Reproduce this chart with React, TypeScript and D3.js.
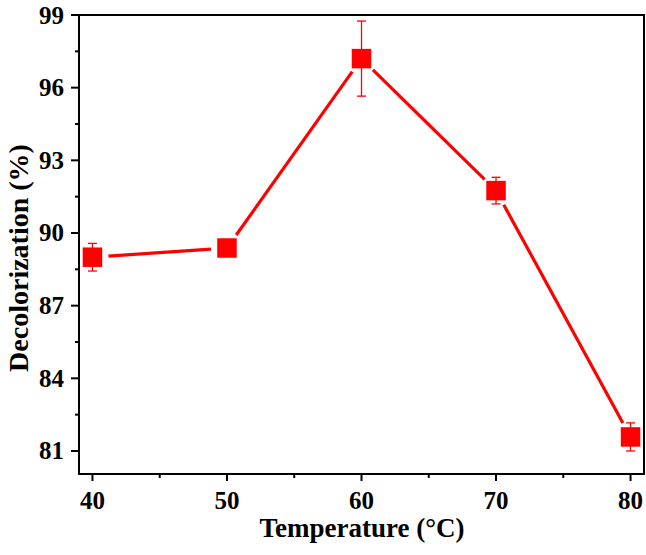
import React from "react";
import * as d3 from "d3";

const temperatures = [40, 50, 60, 70, 80];
const decolorization = [89.0, 89.38, 97.2, 91.75, 81.58];
const errors = [0.57, 0.2, 1.55, 0.55, 0.58];
const xTicks = [40, 50, 60, 70, 80];
const xMinorTicks = [45, 55, 65, 75];
const yTicks = [81, 84, 87, 90, 93, 96, 99];
const yMinorTicks = [82.5, 85.5, 88.5, 91.5, 94.5, 97.5];

const W = 646;
const H = 555;
const margin = { left: 79, top: 15, right: 2, bottom: 81 };
const FONT = "'Liberation Serif', 'Times New Roman', serif";
const RED = "#FF0000";

export default function App() {
  const x = d3.scaleLinear().domain([39, 81]).range([margin.left, W - margin.right]);
  const y = d3.scaleLinear().domain([80.05, 99]).range([H - margin.bottom, margin.top]);
  const x0 = margin.left, x1 = W - margin.right, y0 = H - margin.bottom, y1 = margin.top;

  const pts = temperatures.map((t, i) => ({ px: x(t), py: y(decolorization[i]), e: errors[i], v: decolorization[i] }));
  const gap = 16;
  const segs = pts.slice(1).map((p, i) => {
    const a = pts[i];
    const dx = p.px - a.px, dy = p.py - a.py;
    const len = Math.hypot(dx, dy);
    const ux = dx / len, uy = dy / len;
    return { xa: a.px + ux * gap, ya: a.py + uy * gap, xb: p.px - ux * gap, yb: p.py - uy * gap };
  });
  const ms = 19.5;

  return (
    <svg width={W} height={H} style={{ position: "absolute", left: 0, top: 0, background: "#fff" }} fontFamily={FONT}>
      <rect x={0} y={0} width={W} height={H} fill="#fff" />
      {/* frame */}
      <rect x={x0} y={y1} width={x1 - x0} height={y0 - y1} fill="none" stroke="#000" strokeWidth={2} />
      {/* x ticks */}
      {xTicks.map((t) => (
        <g key={"xt" + t}>
          <line x1={x(t)} x2={x(t)} y1={y0} y2={y0 + 7} stroke="#000" strokeWidth={2} />
          <text x={x(t)} y={y0 + 35} textAnchor="middle" fontSize={25} fontWeight="bold">{t}</text>
        </g>
      ))}
      {xMinorTicks.map((t) => (
        <line key={"xm" + t} x1={x(t)} x2={x(t)} y1={y0} y2={y0 + 4} stroke="#000" strokeWidth={2} />
      ))}
      {/* y ticks */}
      {yTicks.map((t) => (
        <g key={"yt" + t}>
          <line x1={x0 - 8} x2={x0} y1={y(t)} y2={y(t)} stroke="#000" strokeWidth={2} />
          <text x={x0 - 15} y={y(t) + 8.5} textAnchor="end" fontSize={25} fontWeight="bold">{t}</text>
        </g>
      ))}
      {yMinorTicks.map((t) => (
        <line key={"ym" + t} x1={x0 - 4} x2={x0} y1={y(t)} y2={y(t)} stroke="#000" strokeWidth={2} />
      ))}
      {/* titles */}
      <text x={362} y={537} textAnchor="middle" fontSize={27} fontWeight="bold">Temperature (°C)</text>
      <text transform={`translate(28,258) rotate(-90)`} textAnchor="middle" fontSize={28} fontWeight="bold">Decolorization (%)</text>
      {/* line */}
      {segs.map((s, i) => (
        <line key={"s" + i} x1={s.xa} y1={s.ya} x2={s.xb} y2={s.yb} stroke={RED} strokeWidth={3.2} />
      ))}
      {/* error bars */}
      {pts.map((p, i) => (
        <g key={"e" + i} stroke={RED} strokeWidth={1.3}>
          <line x1={p.px} x2={p.px} y1={y(p.v + p.e)} y2={y(p.v - p.e)} />
          <line x1={p.px - 4.5} x2={p.px + 4.5} y1={y(p.v + p.e)} y2={y(p.v + p.e)} />
          <line x1={p.px - 4.5} x2={p.px + 4.5} y1={y(p.v - p.e)} y2={y(p.v - p.e)} />
        </g>
      ))}
      {/* markers */}
      {pts.map((p, i) => (
        <rect key={"m" + i} x={p.px - ms / 2} y={p.py - ms / 2} width={ms} height={ms} fill={RED} />
      ))}
    </svg>
  );
}
